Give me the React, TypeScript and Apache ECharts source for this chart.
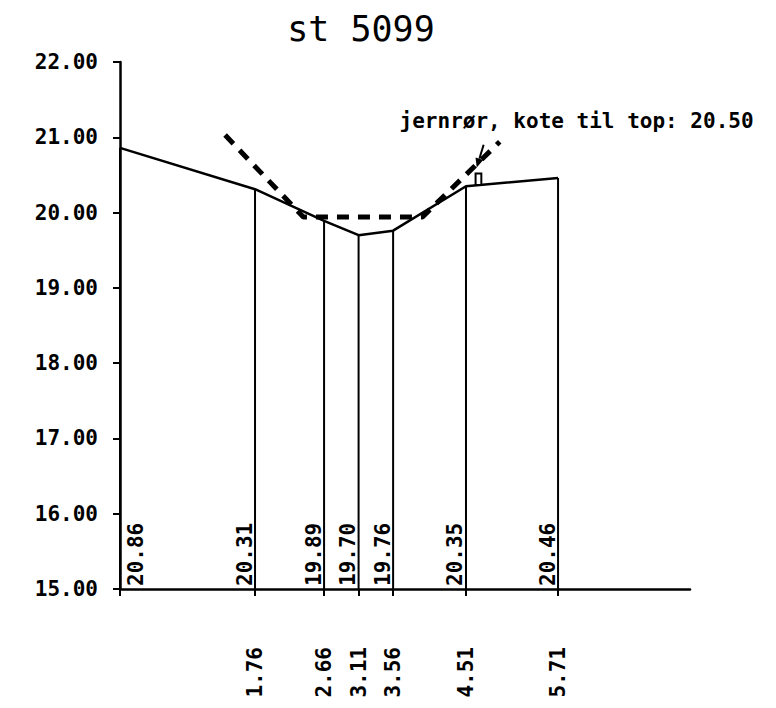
import React, { useEffect, useRef } from "react";
import * as echarts from "echarts";

const titleText = "st 5099";
const xPositions = [0, 1.76, 2.66, 3.11, 3.56, 4.51, 5.71];
const elevations = [20.86, 20.31, 19.89, 19.7, 19.76, 20.35, 20.46];
const dashedX = [1.37, 2.39, 3.94, 4.95];
const dashedY = [21.03, 19.94, 19.94, 20.94];
const yTickValues = [15, 16, 17, 18, 19, 20, 21, 22];
const pipeX = [4.635, 4.71];
const pipeTop = 20.52;
const arrowFrom = [4.74, 20.9];
const arrowTo = [4.65, 20.6];
const annotationText = "jernrør, kote til top: 20.50";

const MONO = "'DejaVu Sans Mono', 'Liberation Mono', monospace";

export default function App() {
  const ref = useRef<HTMLDivElement>(null);
  useEffect(() => {
    if (!ref.current) return;
    const chart = echarts.init(ref.current, null, { renderer: "svg" });
    const profile = xPositions.map((x, i) => [x, elevations[i]]);
    const dashed = dashedX.map((x, i) => [x, dashedY[i]]);
    const yMin = yTickValues[0];

    const lineYAt = (x: number) => {
      for (let i = 0; i < xPositions.length - 1; i++) {
        if (x >= xPositions[i] && x <= xPositions[i + 1]) {
          const t = (x - xPositions[i]) / (xPositions[i + 1] - xPositions[i]);
          return elevations[i] + t * (elevations[i + 1] - elevations[i]);
        }
      }
      return elevations[elevations.length - 1];
    };

    chart.setOption({
      animation: false,
      backgroundColor: "#fff",
      title: {
        text: titleText,
        left: 356,
        top: 6,
        textAlign: "center",
        textStyle: { fontFamily: MONO, fontSize: 35, fontWeight: "normal", color: "#000" },
      },
      grid: { left: 120, right: 86, top: 62, bottom: 119, outerBoundsMode: "none" },
      xAxis: {
        type: "value",
        min: 0,
        max: 7.43,
        splitLine: { show: false },
        axisLine: { onZero: false, lineStyle: { color: "#000", width: 2.5 } },
        axisTick: {
          show: true,
          length: 7,
          customValues: xPositions,
          lineStyle: { color: "#000", width: 2 },
        },
        axisLabel: {
          customValues: xPositions.slice(1),
          rotate: 90,
          margin: 58,
          formatter: (v: number) => v.toFixed(2),
          fontFamily: MONO,
          fontSize: 21,
          fontWeight: "bold",
          color: "#000",
        },
      },
      yAxis: {
        type: "value",
        min: 15,
        max: 22,
        interval: 1,
        splitLine: { show: false },
        axisLine: { onZero: false, lineStyle: { color: "#000", width: 2.5 } },
        axisTick: { show: true, length: 7, lineStyle: { color: "#000", width: 2 } },
        axisLabel: {
          margin: 22,
          formatter: (v: number) => v.toFixed(2),
          fontFamily: MONO,
          fontSize: 21,
          fontWeight: "bold",
          color: "#000",
        },
      },
      series: [
        {
          type: "line",
          data: profile,
          symbol: "none",
          lineStyle: { color: "#000", width: 2.5 },
          z: 3,
        },
        {
          type: "line",
          data: dashed,
          symbol: "none",
          lineStyle: { color: "#000", width: 5, type: [12, 9] },
          z: 4,
        },
        {
          type: "custom",
          data: profile,
          z: 2,
          renderItem: (params: any, api: any) => {
            const x = api.value(0);
            const y = api.value(1);
            const top = api.coord([x, y]);
            const bot = api.coord([x, yMin]);
            const first = params.dataIndex === 0;
            return {
              type: "group",
              children: [
                {
                  type: "line",
                  shape: { x1: top[0], y1: top[1], x2: bot[0], y2: bot[1] },
                  style: { stroke: "#000", lineWidth: 2 },
                },
                {
                  type: "text",
                  x: bot[0] + (first ? 5 : 0),
                  y: bot[1] - 3,
                  rotation: Math.PI / 2,
                  style: {
                    text: y.toFixed(2),
                    align: "left",
                    verticalAlign: first ? "top" : "bottom",
                    font: `bold 21px ${MONO}`,
                    fill: "#000",
                  },
                },
              ],
            };
          },
        },
        {
          type: "custom",
          data: [[pipeX[0], pipeTop]],
          z: 5,
          renderItem: (params: any, api: any) => {
            const tl = api.coord([pipeX[0], pipeTop]);
            const br = api.coord([pipeX[1], lineYAt((pipeX[0] + pipeX[1]) / 2)]);
            const a = api.coord(arrowFrom);
            const b = api.coord(arrowTo);
            const dx = b[0] - a[0];
            const dy = b[1] - a[1];
            const len = Math.sqrt(dx * dx + dy * dy);
            const ux = dx / len;
            const uy = dy / len;
            const hl = 9;
            const hw = 4;
            const bx = b[0] - ux * hl;
            const by = b[1] - uy * hl;
            return {
              type: "group",
              children: [
                {
                  type: "rect",
                  shape: { x: tl[0], y: tl[1], width: br[0] - tl[0], height: br[1] - tl[1] },
                  style: { fill: "#fff", stroke: "#000", lineWidth: 2 },
                },
                {
                  type: "line",
                  shape: { x1: a[0], y1: a[1], x2: bx, y2: by },
                  style: { stroke: "#000", lineWidth: 2 },
                },
                {
                  type: "polygon",
                  shape: {
                    points: [
                      [b[0], b[1]],
                      [bx - uy * hw, by + ux * hw],
                      [bx + uy * hw, by - ux * hw],
                    ],
                  },
                  style: { fill: "#000" },
                },
                {
                  type: "text",
                  x: tl[0] - 76,
                  y: tl[1] - 52,
                  style: {
                    text: annotationText,
                    align: "left",
                    verticalAlign: "middle",
                    font: `bold 21px ${MONO}`,
                    fill: "#000",
                  },
                },
              ],
            };
          },
        },
      ],
    });
    return () => chart.dispose();
  }, []);
  return (
    <div
      ref={ref}
      style={{ position: "fixed", left: 0, top: 0, width: 776, height: 708, background: "#fff" }}
    />
  );
}
